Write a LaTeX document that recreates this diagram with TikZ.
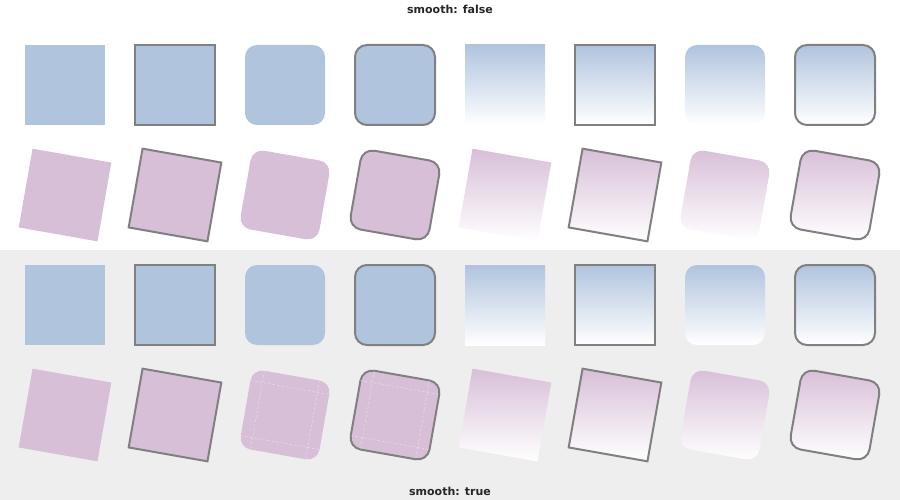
\documentclass[tikz,border=0pt]{standalone}
\usepackage{fontspec}
\setmainfont{DejaVu Sans}
\definecolor{sblue}{HTML}{B0C4DE}
\definecolor{spurple}{HTML}{D8BFD8}
\definecolor{sgray}{HTML}{808080}
\definecolor{bggray}{HTML}{EEEEEE}
\tikzset{
  box/.style={minimum size=80pt, inner sep=0pt, outer sep=0pt},
  edged/.style={draw=sgray, line width=2pt},
  rounded/.style={rounded corners=12pt},
  lab/.style={font=\fontsize{11}{13}\selectfont\bfseries, text=black!85, inner sep=0pt},
  seam/.style={draw=white, opacity=0.45, line width=0.5pt, dash pattern=on 2.5pt off 2pt}
}
\begin{document}
\begin{tikzpicture}[x=1pt, y=-1pt]
\useasboundingbox (0,0) rectangle (900,500);
\fill[bggray] (0,250) rectangle (900,500);
\node[lab] (t1) at (450,9) {smooth: false};
\node[lab] (t2) at (450,491) {smooth: true};
\foreach \r/\yy/\c/\a in {1/85/sblue/0, 2/195/spurple/-10, 3/305/sblue/0, 4/415/spurple/-10}{
  \node[box, rotate=\a, fill=\c] (b\r1) at (65,\yy) {};
  \node[box, rotate=\a, fill=\c, edged] (b\r2) at (175,\yy) {};
  \node[box, rotate=\a, fill=\c, rounded] (b\r3) at (285,\yy) {};
  \node[box, rotate=\a, fill=\c, rounded, edged] (b\r4) at (395,\yy) {};
  \node[box, rotate=\a, top color=\c, bottom color=white] (b\r5) at (505,\yy) {};
  \node[box, rotate=\a, top color=\c, bottom color=white, edged] (b\r6) at (615,\yy) {};
  \node[box, rotate=\a, top color=\c, bottom color=white, rounded] (b\r7) at (725,\yy) {};
  \node[box, rotate=\a, top color=\c, bottom color=white, rounded, edged] (b\r8) at (835,\yy) {};
}
\foreach \n in {b43, b44}{
  \begin{scope}[shift={(\n.center)}, rotate=-10]
    \draw[seam] (-28,-40) -- (-28,40);
    \draw[seam] (28,-40) -- (28,40);
    \draw[seam] (-40,-28) -- (40,-28);
    \draw[seam] (-40,28) -- (40,28);
  \end{scope}
}
\end{tikzpicture}
\end{document}
